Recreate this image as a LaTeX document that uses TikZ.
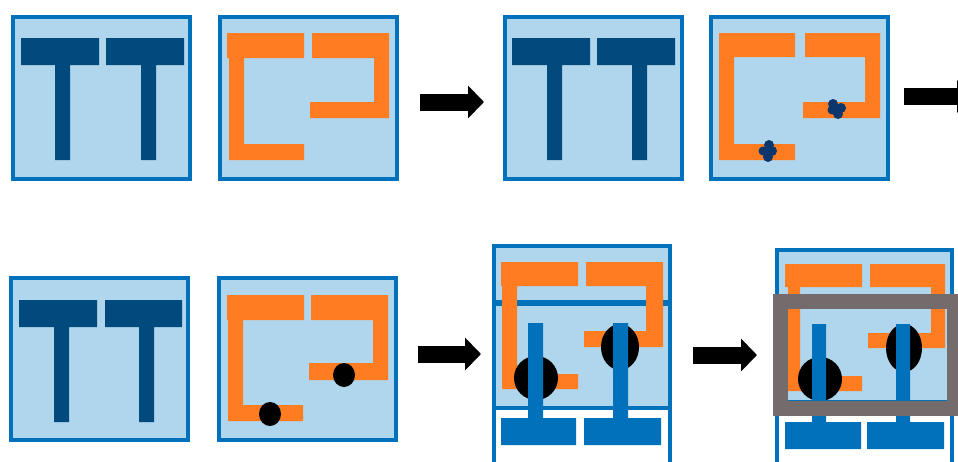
\documentclass[tikz,border=0pt]{standalone}
\usepackage{xcolor}
\usetikzlibrary{arrows.meta}
\definecolor{rimblue}{HTML}{0071BA}
\definecolor{paleblue}{HTML}{AFD6EC}
\definecolor{teenavy}{HTML}{004A7D}
\definecolor{hookorange}{HTML}{FF7C20}
\definecolor{blobnavy}{HTML}{0C376E}
\definecolor{framegray}{HTML}{746C6C}
\begin{document}
\begin{tikzpicture}[
  x=1pt, y=-1pt,
  panel/.style={rectangle, draw=rimblue, fill=paleblue, line width=4pt, inner sep=0pt, outer sep=0pt,
    minimum width=177pt, minimum height=162pt},
  rim/.style={draw=rimblue, line width=4.5pt},
  tee/.style={fill=teenavy},
  hook/.style={fill=hookorange},
  probe/.style={fill=rimblue},
  blob/.style={fill=blobnavy},
  dot/.style={fill=black},
  arr/.style={-{Triangle[length=16pt,width=32pt]}, line width=17pt, draw=black}
]
\clip (0,0) rectangle (958,461);
\fill[white] (0,0) rectangle (958,461);

% top row
\node[panel] (topA) at (101.5,98) {};
\node[panel] (topB) at (308.5,98) {};
\node[panel] (topC) at (593,98) {};
\node[panel] (topD) at (799,98) {};

\fill[tee] (21,38) rectangle (99,65) (55,65) rectangle (70,160);
\fill[tee] (106,38) rectangle (184,65) (141,65) rectangle (156,160);
\fill[tee] (512,38) rectangle (590,65) (547,65) rectangle (562,160);
\fill[tee] (597,38) rectangle (675,65) (632,65) rectangle (647,160);

\fill[hook] (227,33) -- (304,33) -- (304,58) -- (244,58) -- (244,144) -- (304,144) -- (304,160) -- (229,160) -- (229,58) -- (227,58) -- cycle;
\fill[hook] (312,33) -- (389,33) -- (389,118) -- (310,118) -- (310,102) -- (374,102) -- (374,58) -- (312,58) -- cycle;
\fill[hook] (719,33) -- (795,33) -- (795,57) -- (734,57) -- (734,144) -- (795,144) -- (795,160) -- (719,160) -- cycle;
\fill[hook] (805,33) -- (880,33) -- (880,118) -- (803,118) -- (803,102) -- (865,102) -- (865,57) -- (805,57) -- cycle;

\fill[blob] (769,145) circle (5) (763,151) circle (4.5) (772,151) circle (5) (768,157) circle (5) (767,151) circle (4);
\fill[blob] (833,104) circle (5) (841,108) circle (5) (832,110) circle (4.5) (838,114) circle (5) (836,109) circle (4);

% bottom row
\node[panel] (lowE) at (99.5,359) {};
\node[panel] (lowF) at (307.5,359) {};

\fill[tee] (19,300) rectangle (97,327) (54,327) rectangle (69,422);
\fill[tee] (105,300) rectangle (182,327) (139,327) rectangle (154,422);

\fill[hook] (227,295) -- (304,295) -- (304,320) -- (243,320) -- (243,405) -- (303,405) -- (303,421) -- (228,421) -- (228,320) -- (227,320) -- cycle;
\fill[hook] (311,295) -- (388,295) -- (388,380) -- (309,380) -- (309,363) -- (373,363) -- (373,320) -- (311,320) -- cycle;
\fill[dot] (270,414) ellipse (11 and 12);
\fill[dot] (344,375) ellipse (11 and 12);

% panel with the bars fitted
\node[panel, minimum width=176pt] (lowG) at (582,327) {};
\draw[rim] (lowG.south west) -- ++(0,60);
\draw[rim] (lowG.south east) -- ++(0,60);
\draw[rim, line width=6pt] (lowG.west |- 0,303) -- (lowG.east |- 0,303);

\fill[hook] (501,262) -- (578,262) -- (578,286) -- (517,286) -- (517,374) -- (578,374) -- (578,389) -- (502,389) -- (502,286) -- (501,286) -- cycle;
\fill[hook] (586,262) -- (663,262) -- (663,347) -- (584,347) -- (584,331) -- (646,331) -- (646,286) -- (586,286) -- cycle;
\fill[dot] (536,378) ellipse (22 and 22);
\fill[dot] (620,347) ellipse (19 and 23);
\fill[probe] (528,323) rectangle (543,418) (501,418) rectangle (576,445);
\fill[probe] (613,323) rectangle (628,418) (584,418) rectangle (661,445);

% same panel with the gray frame on top
\node[panel, minimum width=175pt, minimum height=152pt] (lowH) at (864.5,326) {};
\draw[rim] (lowH.south west) -- ++(0,60);
\draw[rim] (lowH.south east) -- ++(0,60);

\fill[hook] (785,264) -- (862,264) -- (862,287) -- (800,287) -- (800,376) -- (862,376) -- (862,391) -- (788,391) -- (788,287) -- (785,287) -- cycle;
\fill[hook] (870,264) -- (945,264) -- (945,348) -- (868,348) -- (868,333) -- (931,333) -- (931,287) -- (870,287) -- cycle;
\fill[dot] (820,379) ellipse (22 and 22);
\fill[dot] (904,348) ellipse (18 and 24);
\fill[probe] (812,324) rectangle (826,422) (785,422) rectangle (861,449);
\fill[probe] (896,324) rectangle (910,422) (867,422) rectangle (944,449);
\draw[framegray, line width=15pt] (780.5,301.5) rectangle (954.5,408.5);

% arrows between panels
\draw[arr] ([xshift=23pt,yshift=-4pt]topB.east) -- ([xshift=-20.5pt,yshift=-4pt]topC.west);
\draw[arr] ([xshift=16.5pt,yshift=1.5pt]topD.east) -- ++(69,0);
\draw[arr] ([xshift=22pt,yshift=5pt]lowF.east) -- ([xshift=-13pt,yshift=-27pt]lowG.west);
\draw[arr] ([xshift=23pt,yshift=-28pt]lowG.east) -- ([xshift=-20pt,yshift=-29pt]lowH.west);
\end{tikzpicture}
\end{document}
